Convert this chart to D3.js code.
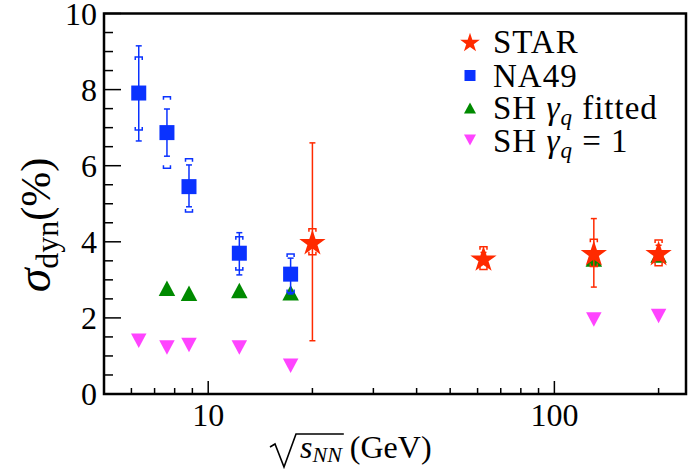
<!DOCTYPE html>
<meta charset="utf-8">
<style>
  body { margin: 0; background: #fff; }
  text { font-family: "Liberation Serif", "DejaVu Serif", serif; fill: #000; }
</style>
<body>
<div id="chart"></div>
<script src="https://d3js.org/d3.v7.min.js"></script>
<script>
// STAR
var starE = [20, 62.4, 130, 200];
var starVal = [4.0, 3.57, 3.71, 3.71];
var starStat = [2.6, 0.15, 0.9, 0.2];
var starSys = [0.34, 0.3, 0.36, 0.34];

// NA49
var na49E = [6.3, 7.6, 8.8, 12.3, 17.3];
var na49Val = [7.91, 6.87, 5.45, 3.70, 3.15];
var na49StatLo = [6.65, 6.25, 4.92, 3.13, 2.63];
var na49StatHi = [9.15, 7.49, 6.02, 4.24, 3.57];
var na49SysLo = [6.94, 5.93, 4.78, 3.26, 2.67];
var na49SysHi = [8.86, 7.81, 6.18, 4.13, 3.68];

// SH gamma_q fitted
var shFitE = [7.6, 8.8, 12.3, 17.3, 130, 200];
var shFitVal = [2.78, 2.65, 2.72, 2.66, 3.55, 3.65];

// SH gamma_q = 1
var shOneE = [6.3, 7.6, 8.8, 12.3, 17.3, 130, 200];
var shOneVal = [1.40, 1.22, 1.29, 1.22, 0.74, 1.96, 2.05];

var xMajor = [10, 100];
var xMinor = [6, 7, 8, 9, 20, 30, 40, 50, 60, 70, 80, 90, 200];
var yMajor = [0, 2, 4, 6, 8, 10];

var width = 689, height = 471;
var mLeft = 104, mRight = 686, mTop = 13.5, mBottom = 394;

var red = "#ff2a00", blue = "#0a32ff", green = "#008a00", magenta = "#ff44ff";

var svg = d3.select("#chart").append("svg")
    .attr("width", width)
    .attr("height", height);

var x = d3.scaleLog().domain([5, 240]).range([mLeft, mRight]);
var y = d3.scaleLinear().domain([0, 10]).range([mBottom, mTop]);

// ticks (inward)
var yMinor = d3.range(0, 10.01, 0.5).filter(function(v) { return v % 2 !== 0; });

svg.append("g").selectAll("line").data(yMinor).enter().append("line")
    .attr("x1", mLeft).attr("x2", mLeft + 9)
    .attr("y1", function(d) { return y(d); }).attr("y2", function(d) { return y(d); })
    .attr("stroke", "#000").attr("stroke-width", 1.5);
svg.append("g").selectAll("line").data(yMajor).enter().append("line")
    .attr("x1", mLeft).attr("x2", mLeft + 17)
    .attr("y1", function(d) { return y(d); }).attr("y2", function(d) { return y(d); })
    .attr("stroke", "#000").attr("stroke-width", 1.5);
svg.append("g").selectAll("line").data(xMinor).enter().append("line")
    .attr("x1", function(d) { return x(d); }).attr("x2", function(d) { return x(d); })
    .attr("y1", mBottom).attr("y2", mBottom - 6)
    .attr("stroke", "#000").attr("stroke-width", 1.5);
svg.append("g").selectAll("line").data(xMajor).enter().append("line")
    .attr("x1", function(d) { return x(d); }).attr("x2", function(d) { return x(d); })
    .attr("y1", mBottom).attr("y2", mBottom - 13)
    .attr("stroke", "#000").attr("stroke-width", 1.5);

// tick labels
svg.append("g").selectAll("text").data(yMajor).enter().append("text")
    .attr("x", 97).attr("y", function(d) { return y(d) + 11; })
    .attr("text-anchor", "end")
    .style("font-size", "32px")
    .text(function(d) { return d; });
svg.append("g").selectAll("text").data(xMajor).enter().append("text")
    .attr("x", function(d) { return x(d); }).attr("y", 426)
    .attr("text-anchor", "middle")
    .style("font-size", "32px")
    .text(function(d) { return d; });

// frame
svg.append("rect")
    .attr("x", mLeft).attr("y", mTop)
    .attr("width", mRight - mLeft).attr("height", mBottom - mTop)
    .attr("fill", "none").attr("stroke", "#000").attr("stroke-width", 2.5);

// marker shapes
function tri(s) { return "M0," + (-s / 2) + "L" + (s / 2 + 0.5) + "," + (s / 2) + "L" + (-s / 2 - 0.5) + "," + (s / 2) + "Z"; }
function triDown(s) { return "M0," + (s / 2) + "L" + (s / 2 + 0.5) + "," + (-s / 2) + "L" + (-s / 2 - 0.5) + "," + (-s / 2) + "Z"; }
var star = d3.symbol().type(d3.symbolStar).size(215);

function errBar(g, xv, lo, hi, color) {
  g.append("line").attr("x1", xv).attr("x2", xv).attr("y1", y(lo)).attr("y2", y(hi))
    .attr("stroke", color).attr("stroke-width", 1.5);
  [lo, hi].forEach(function(v) {
    g.append("line").attr("x1", xv - 3).attr("x2", xv + 3).attr("y1", y(v)).attr("y2", y(v))
      .attr("stroke", color).attr("stroke-width", 1.5);
  });
}
function sysBracket(g, xv, lo, hi, color) {
  var w = 3.5, h = 3;
  g.append("path")
    .attr("d", "M" + (xv - w) + "," + (y(hi) + h) + "V" + y(hi) + "H" + (xv + w) + "V" + (y(hi) + h))
    .attr("fill", "none").attr("stroke", color).attr("stroke-width", 1.5);
  g.append("path")
    .attr("d", "M" + (xv - w) + "," + (y(lo) - h) + "V" + y(lo) + "H" + (xv + w) + "V" + (y(lo) - h))
    .attr("fill", "none").attr("stroke", color).attr("stroke-width", 1.5);
}

// SH gamma_q = 1
svg.append("g").selectAll("path").data(shOneE).enter().append("path")
    .attr("transform", function(d, i) { return "translate(" + x(d) + "," + y(shOneVal[i]) + ")"; })
    .attr("d", triDown(14.5))
    .attr("fill", magenta);

// SH gamma_q fitted
svg.append("g").selectAll("path").data(shFitE).enter().append("path")
    .attr("transform", function(d, i) { return "translate(" + x(d) + "," + y(shFitVal[i]) + ")"; })
    .attr("d", tri(15.5))
    .attr("fill", green);

// NA49
var gN = svg.append("g");
na49E.forEach(function(e, i) {
  errBar(gN, x(e), na49StatLo[i], na49StatHi[i], blue);
  sysBracket(gN, x(e), na49SysLo[i], na49SysHi[i], blue);
});
gN.selectAll("rect").data(na49E).enter().append("rect")
    .attr("x", function(d) { return x(d) - 7.5; })
    .attr("y", function(d, i) { return y(na49Val[i]) - 7.5; })
    .attr("width", 15).attr("height", 15)
    .attr("fill", blue);

// STAR
var gS = svg.append("g");
starE.forEach(function(e, i) {
  errBar(gS, x(e), starVal[i] - starStat[i], starVal[i] + starStat[i], red);
  sysBracket(gS, x(e), starVal[i] - starSys[i], starVal[i] + starSys[i], red);
});
gS.selectAll("path.star").data(starE).enter().append("path")
    .attr("class", "star")
    .attr("transform", function(d, i) { return "translate(" + x(d) + "," + (y(starVal[i]) + 1.5) + ")"; })
    .attr("d", star)
    .attr("fill", red);

// legend
var lx = 470, tx = 493;
var leg = svg.append("g");
leg.append("path").attr("transform", "translate(" + lx + ",43)")
    .attr("d", d3.symbol().type(d3.symbolStar).size(120)).attr("fill", red);
leg.append("rect").attr("x", lx - 5.5).attr("y", 70).attr("width", 11).attr("height", 11).attr("fill", blue);
leg.append("path").attr("transform", "translate(" + lx + ",108)").attr("d", tri(11)).attr("fill", green);
leg.append("path").attr("transform", "translate(" + lx + ",140)").attr("d", triDown(11)).attr("fill", magenta);

function legText(yy) {
  return leg.append("text").attr("x", tx).attr("y", yy).style("font-size", "33px").style("letter-spacing", "1px");
}
legText(53).text("STAR");
legText(87).text("NA49");
var t3 = legText(119);
t3.append("tspan").text("SH ");
t3.append("tspan").style("font-style", "italic").text("γ");
t3.append("tspan").style("font-style", "italic").style("font-size", "23px").attr("dy", 6).text("q");
t3.append("tspan").attr("dy", -6).text(" fitted");
var t4 = legText(152);
t4.append("tspan").text("SH ");
t4.append("tspan").style("font-style", "italic").text("γ");
t4.append("tspan").style("font-style", "italic").style("font-size", "23px").attr("dy", 6).text("q");
t4.append("tspan").attr("dy", -6).text(" = 1");

// y title
var yt = svg.append("text")
    .attr("transform", "translate(50,225) rotate(-90)")
    .attr("text-anchor", "middle");
yt.append("tspan").style("font-style", "italic").style("font-size", "48px").text("σ");
yt.append("tspan").style("font-size", "32px").attr("dy", 8).text("dyn");
yt.append("tspan").style("font-size", "42px").attr("dy", -8).text("(%)");

// x title
var xt = svg.append("g");
var sl = 300;
var xtext = xt.append("text").attr("x", sl).attr("y", 458).style("font-size", "32px");
xtext.append("tspan").style("font-style", "italic").text("s");
xtext.append("tspan").style("font-style", "italic").style("font-size", "22px").attr("dy", 4).text("NN");
xtext.append("tspan").attr("dy", -4).text("  (GeV)");
var tmp = xt.append("text").style("font-size", "32px").style("font-style", "italic").text("s");
var nn = xt.append("text").style("font-size", "22px").style("font-style", "italic").text("NN");
var sw = tmp.node().getComputedTextLength() + nn.node().getComputedTextLength();
tmp.remove(); nn.remove();
xt.append("path")
    .attr("d", "M270,447 L275,444 L284,467 L296,434 L" + (sl + sw + 2) + ",434")
    .attr("fill", "none").attr("stroke", "#000").attr("stroke-width", 1.6);
</script>
</body>
